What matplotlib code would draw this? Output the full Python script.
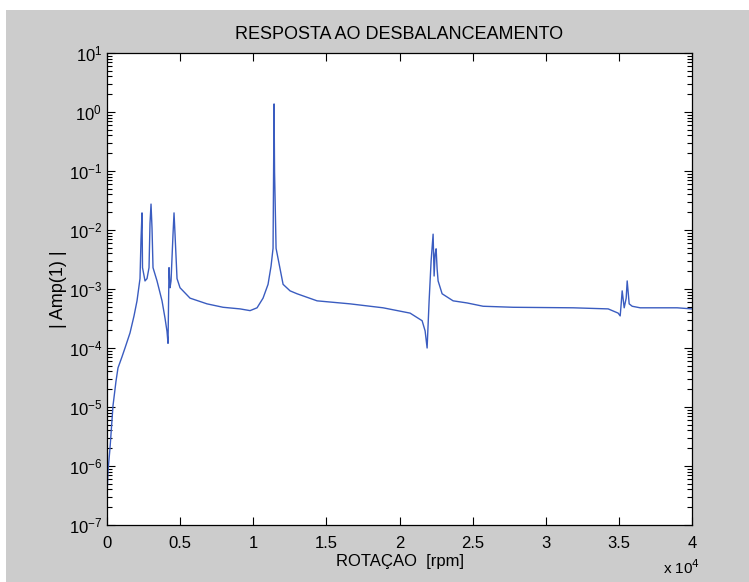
import numpy as np
import matplotlib
matplotlib.use('Agg')
import matplotlib.pyplot as plt
from matplotlib.patches import Rectangle
from matplotlib.ticker import LogLocator, NullFormatter

plt.rcParams['font.family'] = ['Liberation Sans', 'DejaVu Sans']
plt.rcParams['font.size'] = 12

# Unbalance response (rpm, |Amp(1)|)
rotacao = [0, 68, 205, 410, 616, 752, 1026, 1231, 1573, 1847,
           2052, 2257, 2326, 2394, 2428, 2599, 2736, 2873, 2941, 3010,
           3078, 3146, 3420, 3762, 3967, 4104, 4172, 4241, 4309, 4378,
           4514, 4583, 4651, 4788, 4993, 5677, 6840, 7934, 9097, 9781,
           10260, 10670, 11012, 11218, 11354, 11423, 11457, 11560, 12040, 12517,
           12996, 14364, 16621, 18878, 20725, 21546, 21751, 21888, 22025, 22162,
           22298, 22367, 22435, 22504, 22572, 22640, 22914, 23666, 24624, 25718,
           27770, 31874, 34268, 34952, 35089, 35158, 35226, 35363, 35500, 35568,
           35705, 35910, 36457, 38988, 40000]
amp = [3.0e-7, 8.2e-7, 2.0e-6, 1.05e-5, 2.75e-5, 4.6e-5, 7.1e-5, 1.0e-4, 1.8e-4, 3.5e-4,
       6.3e-4, 1.5e-3, 7.0e-3, 1.95e-2, 2.3e-3, 1.37e-3, 1.5e-3, 2.3e-3, 1.3e-2, 2.75e-2,
       1.08e-2, 2.3e-3, 1.37e-3, 6.3e-4, 3.2e-4, 1.9e-4, 1.2e-4, 2.3e-3, 1.05e-3, 1.37e-3,
       8.5e-3, 1.95e-2, 8.5e-3, 1.5e-3, 1.05e-3, 7.0e-4, 5.6e-4, 4.9e-4, 4.6e-4, 4.3e-4,
       4.8e-4, 7.0e-4, 1.2e-3, 2.45e-3, 4.9e-3, 1.37, 9.5e-2, 4.9e-3, 1.2e-3, 9.3e-4,
       8.3e-4, 6.3e-4, 5.6e-4, 4.8e-4, 3.9e-4, 2.9e-4, 1.95e-4, 1.0e-4, 6.3e-4, 3.0e-3,
       8.5e-3, 1.66e-3, 3.9e-3, 4.8e-3, 2.2e-3, 1.37e-3, 8.3e-4, 6.3e-4, 5.8e-4, 5.1e-4,
       4.9e-4, 4.8e-4, 4.6e-4, 3.9e-4, 3.5e-4, 5.6e-4, 9.3e-4, 4.8e-4, 7.0e-4, 1.37e-3,
       5.6e-4, 5.1e-4, 4.8e-4, 4.8e-4, 4.6e-4]

xticks = [0, 5000, 10000, 15000, 20000, 25000, 30000, 35000, 40000]
xticklabels = ['0', '0.5', '1', '1.5', '2', '2.5', '3', '3.5', '4']

fig = plt.figure(figsize=(7.49, 5.82), dpi=100, facecolor='white')
# grey MATLAB figure window inside a thin white border
fig.patches.append(Rectangle((6 / 749, 0), 1, 1 - 10 / 582, transform=fig.transFigure,
                             facecolor='#cccccc', edgecolor='none', zorder=-10))

ax = fig.add_axes([107 / 749, 57 / 582, 585 / 749, 472 / 582])
ax.set_facecolor('white')
ax.semilogy(rotacao, amp, color='#3a5cc0', lw=1.0)

ax.set_xlim(0, 40000)
ax.set_ylim(1e-7, 1e1)
ax.set_xticks(xticks)
ax.set_xticklabels(xticklabels)
ax.yaxis.set_major_locator(LogLocator(base=10, numticks=20))
ax.yaxis.set_minor_locator(LogLocator(base=10, subs=np.arange(2, 10), numticks=20))
ax.yaxis.set_minor_formatter(NullFormatter())

ax.tick_params(which='both', direction='in', top=True, right=True, colors='black',
               labelsize=12)
ax.tick_params(which='major', length=6, width=0.8)
ax.tick_params(which='minor', length=3.5, width=0.8)
ax.tick_params(axis='x', pad=8)
for s in ax.spines.values():
    s.set_linewidth(0.9)

ax.set_title('RESPOSTA AO DESBALANCEAMENTO', fontsize=13, pad=10)
ax.set_xlabel('ROTAÇAO  [rpm]', fontsize=12, labelpad=2)
ax.set_ylabel('| Amp(1) |', fontsize=13, labelpad=1)
fig.text(700 / 749, 1 - 568 / 582, r'x 10$^4$', fontsize=11, ha='right', va='center')

fig.savefig('out.png', dpi=100, facecolor=fig.get_facecolor())
